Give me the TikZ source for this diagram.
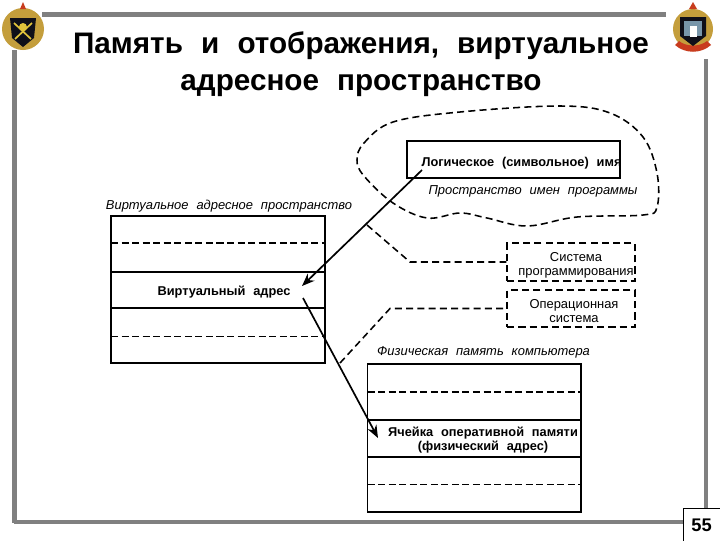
\documentclass[tikz,border=0pt]{standalone}
\usepackage{fontspec}
\usetikzlibrary{arrows.meta}
\setmainfont[WordSpace=2.2]{Liberation Sans}
\definecolor{slideFrame}{RGB}{128,128,128}
\definecolor{crestGold}{RGB}{196,158,60}
\definecolor{crestRed}{RGB}{200,60,30}
\definecolor{crestInk}{RGB}{15,15,25}
\definecolor{crestBlue}{RGB}{120,150,170}
\definecolor{crestYellow}{RGB}{225,195,60}
\begin{document}
\begin{tikzpicture}[x=.025cm,y=-.025cm,
      titletext/.style={font=\fontsize{21.1}{26}\selectfont\bfseries, align=center},
      spacelabel/.style={font=\fontsize{9.2}{10}\selectfont\itshape},
      boldlabel/.style={font=\fontsize{9.1}{10}\selectfont\bfseries, align=center, inner sep=0pt},
      plainlabel/.style={font=\fontsize{9.2}{10}\selectfont, align=center, inner sep=0pt},
      memline/.style={line width=1.3pt},
      memdash/.style={line width=1pt, dash pattern=on 5pt off 2.5pt},
      memthin/.style={line width=.6pt, dash pattern=on 5pt off 2.5pt},
      linkdash/.style={line width=1.1pt, dash pattern=on 5pt off 3pt},
      sysbox/.style={draw=black, linkdash, minimum width=128*.7087pt, inner sep=0pt},
      frameline/.style={slideFrame, line width=3.2pt},
      pointer/.style={line width=1.2pt, -{Stealth[length=9pt,width=7pt]}}]
      \useasboundingbox (0,0) rectangle (720,540);
      \fill[white] (0,0) rectangle (720,540);

      % slide frame
      \draw[frameline] (42,14.5) -- (666,14.5);
      \draw[frameline] (14.5,50) -- (14.5,523);
      \draw[frameline] (706,59) -- (706,510);
      \draw[frameline] (14,522) -- (684,522);
      \draw[white, line width=.6pt] (17,519) -- (684,519);
      \path[draw=black, fill=white, line width=.7pt] (683,508) rectangle (722,542);
      \node[font=\fontsize{13}{14}\selectfont\bfseries] (pageNum) at (701.5,525) {55};

      % left crest
      \fill[crestGold] (23,29) circle (21);
      \fill[crestRed] (23,2) -- (26,9) -- (20,9) -- cycle;
      \fill[crestInk] (10,18) -- (36,18) -- (34,38) -- (23,47) -- (12,38) -- cycle;
      \draw[crestYellow, line width=1.2pt] (14,23) -- (31,39);
      \draw[crestYellow, line width=1.2pt] (32,23) -- (15,39);
      \fill[crestYellow] (23,27) circle (4);

      % right crest
      \fill[crestGold] (693,29) circle (20);
      \fill[crestRed] (693,2) -- (697,9) -- (689,9) -- cycle;
      \fill[crestRed] (675,45) .. controls (685,54) and (701,54) .. (711,45)
        -- (707,41) .. controls (700,47) and (686,47) .. (679,41) -- cycle;
      \fill[crestInk] (680,17) -- (706,17) -- (706,36) -- (693,46) -- (680,36) -- cycle;
      \fill[crestBlue] (684,21) rectangle (702,36);
      \fill[white] (690,26) rectangle (697,37);

      \node[titletext] (slideTitle) at (361,64) {Память и отображения, виртуальное\\адресное пространство};

      % program name space
      \draw[linkdash] plot[smooth cycle, tension=.6] coordinates {
        (357,160) (364,143) (393,122) (460,112) (560,106) (610,113) (643,137) (657,173)
        (657,207) (643,215) (577,217) (527,226) (487,218) (460,213) (427,218) (393,203) (364,176)};
      \path[draw=black, line width=1.3pt, fill=white] (407,141) rectangle (620,178);
      \node[boldlabel] (logName) at (521.5,163.5) {Логическое (символьное) имя};
      \node[spacelabel] (nameSpace) at (533,191.5) {Пространство имен программы};

      % virtual address space
      \node[spacelabel] (virtSpace) at (229,206) {Виртуальное адресное пространство};
      \draw[memline] (111,216) rectangle (325,363);
      \draw[memdash] (111,243) -- (325,243);
      \draw[memline] (111,272) -- (325,272);
      \draw[memline] (111,308) -- (325,308);
      \draw[memthin] (111,336) -- (325,336);
      \node[boldlabel] (virtAddr) at (224,292.5) {Виртуальный адрес};

      % system boxes
      \node[sysbox, minimum height=38*.7087pt] (progSys) at (571,262) {};
      \node[plainlabel] (progText) at (576,265) {Система\\программирования};
      \node[sysbox, minimum height=37*.7087pt] (opSys) at (571,308.5) {};
      \node[plainlabel] (opText) at (574,311.5) {Операционная\\система};

      % physical memory
      \node[spacelabel] (physSpace) at (483.5,352.5) {Физическая память компьютера};
      \draw[memline] (367.5,364) rectangle (581,512);
      \draw[memdash] (367.5,392) -- (581,392);
      \draw[memline] (367.5,420) -- (581,420);
      \draw[memline] (367.5,457) -- (581,457);
      \draw[memthin] (367.5,484) -- (581,484);
      \node[boldlabel] (physCell) at (483,440.5) {Ячейка оперативной памяти\\(физический адрес)};

      % connectors
      \coordinate (logOut) at (422,170);
      \coordinate (virtIn) at (302,286);
      \coordinate (virtOut) at (303,298);
      \coordinate (physIn) at (378,438);
      \coordinate (progStart) at (367,225);
      \coordinate (progBend) at (410,262);
      \coordinate (opStart) at (340,363);
      \coordinate (opBend) at (390,308.5);
      \draw[pointer] (logOut) -- (virtIn);
      \draw[pointer] (virtOut) -- (physIn);
      \draw[linkdash] (progStart) -- (progBend) -- (progSys.west);
      \draw[linkdash] (opStart) -- (opBend) -- (opSys.west);
\end{tikzpicture}
\end{document}
